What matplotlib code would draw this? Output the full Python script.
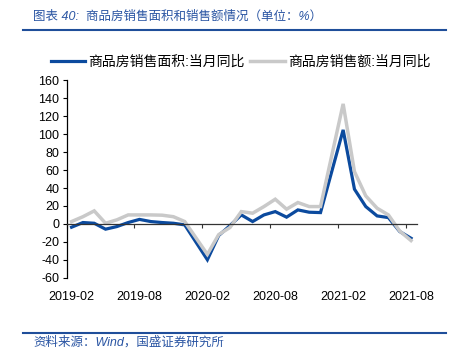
import pandas as pd
import matplotlib
matplotlib.use('Agg')
import matplotlib.pyplot as plt
from matplotlib.lines import Line2D

plt.rcParams['font.family'] = ['Liberation Sans', 'Noto Sans CJK SC', 'DejaVu Sans']
plt.rcParams['axes.unicode_minus'] = False

months = ['2019-02', '2019-03', '2019-04', '2019-05', '2019-06', '2019-07', '2019-08',
          '2019-09', '2019-10', '2019-11', '2019-12',
          '2020-02', '2020-03', '2020-04', '2020-05', '2020-06', '2020-07', '2020-08',
          '2020-09', '2020-10', '2020-11', '2020-12',
          '2021-02', '2021-03', '2021-04', '2021-05', '2021-06', '2021-07', '2021-08']
area_yoy = [-3.7, 1.5, 0.7, -5.9, -3.0, 1.5, 5.0, 2.6, 1.5, 0.7, -1.1,
            -40.0, -13.0, -1.9, 10.0, 2.6, 10.0, 13.7, 7.5, 15.6, 13.0, 12.6,
            104.8, 38.7, 19.3, 8.9, 7.0, -8.5, -16.0]
amount_yoy = [2.6, 8.0, 14.5, 0.7, 4.5, 10.0, 10.0, 10.0, 9.7, 8.0, 2.6,
              -34.0, -12.0, -4.0, 13.7, 11.9, 19.3, 27.5, 16.4, 23.8, 19.3, 19.3,
              133.8, 58.3, 31.2, 17.5, 10.0, -8.0, -18.6]
tick_months = ['2019-02', '2019-08', '2020-02', '2020-08', '2021-02', '2021-08']
yticks = list(range(-60, 161, 20))

blue = '#0b4a9e'
gray = '#c9c9c9'
title_blue = '#2a55a3'

# month index since the first month
start = pd.Period(months[0], 'M')
x = [(pd.Period(m, 'M') - start).n for m in months]
tick_x = [(pd.Period(m, 'M') - start).n for m in tick_months]

fig = plt.figure(figsize=(4.58, 3.62), dpi=100)
ax = fig.add_axes([0.1452, 0.2329, 0.7646, 0.545])

ax.plot(x, area_yoy, color=blue, lw=2.3, solid_joinstyle='miter')
ax.plot(x, amount_yoy, color=gray, lw=2.5, solid_joinstyle='miter')

ax.set_xlim(-0.45, 30.5)
ax.set_ylim(-60, 160)
ax.set_yticks(yticks)
ax.set_yticklabels([str(v) for v in yticks], fontsize=9)

for s in ['top', 'right']:
    ax.spines[s].set_visible(False)
ax.spines['bottom'].set_position(('data', 0))
ax.spines['bottom'].set_color('#333333')
ax.spines['left'].set_color('#000000')
ax.spines['bottom'].set_linewidth(0.9)
ax.spines['left'].set_linewidth(0.9)

ax.set_xticks([t - 0.45 for t in tick_x])
ax.set_xticklabels([])
ax.tick_params(axis='x', direction='out', length=3, color='#333333')
ax.tick_params(axis='y', direction='out', length=3, pad=2)
for t, lab in zip(tick_x, tick_months):
    ax.text(t, -0.065, lab, transform=ax.get_xaxis_transform(),
            ha='center', va='top', fontsize=9)

handles = [Line2D([], [], color=blue, lw=2.3), Line2D([], [], color=gray, lw=2.5)]
fig.legend(handles, ['商品房销售面积:当月同比', '商品房销售额:当月同比'],
           loc='center', bbox_to_anchor=(0.525, 0.829), ncol=2, frameon=False,
           fontsize=10, handlelength=2.5, handletextpad=0.2, columnspacing=0.4)

fig.text(0.072, 0.953, '图表 40:  商品房销售面积和销售额情况（单位：%）',
         color=title_blue, fontsize=9, ha='left', va='center', style='italic')
fig.add_artist(Line2D([0.05, 0.974], [0.916, 0.916], color='#1f4e9a', lw=1.5))
fig.add_artist(Line2D([0.05, 0.974], [0.081, 0.081], color='#1f4e9a', lw=1.5))
fig.text(0.072, 0.055, '资料来源：Wind，国盛证券研究所',
         color=title_blue, fontsize=9, ha='left', va='center', style='italic')

fig.savefig('out.png', dpi=100)
